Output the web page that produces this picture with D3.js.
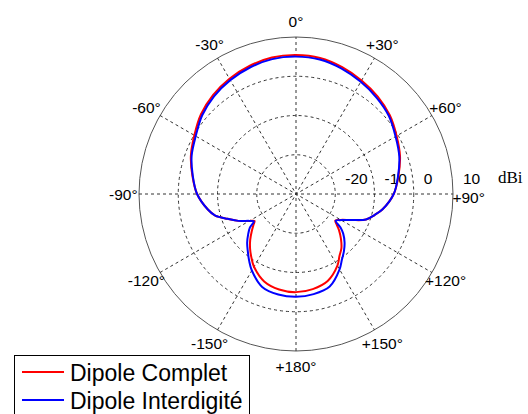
<!DOCTYPE html>
<html><head><meta charset="utf-8">
<script src="https://cdn.jsdelivr.net/npm/d3@7"></script>
<style>body{margin:0;background:#fff}svg{display:block}</style>
</head><body>
<svg id="chart" width="528" height="414"></svg>
<script>
// Angles in degrees (0 = top, clockwise positive)
const angles = [-180,-170,-160,-150,-145,-140,-135,-130,-126,-123,-120,-115,-110,-105,-100,-90,-80,-70,-60,-50,-40,-30,-20,-10,0,10,20,30,40,50,60,70,80,90,100,105,110,115,120,124,127,130,135,140,145,150,160,170];
// Gain in dBi
const dipoleComplet = [-5.0,-5.3,-6.3,-8.6,-10.2,-11.8,-13.5,-15.3,-16.6,-17.4,-16.3,-13.8,-11.5,-8.7,-7.2,-4.8,-3.2,-1.5,-0.1,1.6,2.9,3.9,4.7,5.3,5.4,5.2,4.4,3.4,2.4,1.2,-0.4,-1.8,-3.5,-5.1,-7.6,-9.3,-11.0,-14.3,-16.8,-17.9,-17.0,-15.7,-13.8,-12.0,-10.7,-8.9,-6.4,-5.4];
const dipoleInterdigite = [-3.8,-4.0,-4.8,-7.5,-9.2,-10.9,-12.4,-14.1,-15.5,-17.2,-16.3,-13.8,-11.5,-8.7,-7.2,-4.8,-3.3,-1.7,-0.5,1.2,2.5,3.5,4.3,4.9,5.0,4.8,4.0,3.0,2.0,0.9,-0.7,-2.0,-3.6,-5.1,-7.6,-9.3,-11.0,-14.3,-16.7,-17.8,-15.8,-14.3,-12.5,-11.0,-9.6,-7.8,-4.9,-4.1];
const ringValues = [-20,-10,0,10];
const ringLabels = ["-20","-10","0","10"];
const spokeAngles = [0,30,60,90,120,150];
const angleLabelValues = [0,30,60,90,120,150,180,-150,-120,-90,-60,-30];
const angleLabels = ["0°","+30°","+60°","+90°","+120°","+150°","+180°","-150°","-120°","-90°","-60°","-30°"];
const seriesNames = ["Dipole Complet","Dipole Interdigité"];
const seriesColors = ["#ff0000","#0000ff"];

const svg = d3.select("#chart");
const cx = 296, cy = 194, R = 157;
const r = d3.scaleLinear().domain([-30, 10]).range([0, R]);
const rad = d => d * Math.PI / 180;
const g = svg.append("g").attr("transform", `translate(${cx},${cy})`);

// rings
g.selectAll("circle.ring").data(ringValues).join("circle")
  .attr("r", d => r(d)).attr("fill", "none")
  .attr("stroke", d => d === 10 ? "#555" : "#333")
  .attr("stroke-width", 1)
  .attr("stroke-dasharray", d => d === 10 ? null : "3,3");

// spokes
g.selectAll("line.spoke").data(spokeAngles).join("line")
  .attr("x1", d => -R * Math.sin(rad(d))).attr("y1", d => R * Math.cos(rad(d)))
  .attr("x2", d => R * Math.sin(rad(d))).attr("y2", d => -R * Math.cos(rad(d)))
  .attr("stroke", "#333").attr("stroke-width", 1).attr("stroke-dasharray", "3,3");

// angle labels
g.selectAll("text.ang").data(angleLabelValues).join("text")
  .attr("x", d => 1.1 * R * Math.sin(rad(d)))
  .attr("y", d => -1.1 * R * Math.cos(rad(d)) + 5.5 + (d === 90 ? 3 : 0))
  .attr("text-anchor", "middle")
  .attr("font-family", "Arial, 'Liberation Sans', sans-serif")
  .attr("font-size", 15.5).attr("fill", "#000")
  .text((d, i) => angleLabels[i]);

// radial labels
g.selectAll("text.rl").data(ringValues).join("text")
  .attr("x", d => r(d) + 10).attr("y", -10)
  .attr("font-family", "Arial, 'Liberation Sans', sans-serif")
  .attr("font-size", 15.5).attr("fill", "#000")
  .text((d, i) => ringLabels[i]);

svg.append("text").attr("x", 498).attr("y", 183)
  .attr("font-family", "'Liberation Serif', 'Times New Roman', serif")
  .attr("font-size", 17).text("dBi");

// curves
const line = d3.lineRadial()
  .angle(d => rad(d[0]))
  .radius(d => r(d[1]))
  .curve(d3.curveCatmullRomClosed.alpha(0.5));
[dipoleComplet, dipoleInterdigite].forEach((vals, k) => {
  g.append("path")
    .datum(angles.map((a, i) => [a, vals[i]]))
    .attr("d", line).attr("fill", "none")
    .attr("stroke", seriesColors[k]).attr("stroke-width", 2)
    .attr("stroke-linejoin", "round");
});

// legend
const lg = svg.append("g");
lg.append("rect").attr("x", 14.5).attr("y", 355.5).attr("width", 235).attr("height", 70)
  .attr("fill", "#fff").attr("stroke", "#000").attr("stroke-width", 1);
seriesNames.forEach((name, i) => {
  const y = 372 + i * 28;
  lg.append("line").attr("x1", 22).attr("x2", 64).attr("y1", y).attr("y2", y)
    .attr("stroke", seriesColors[i]).attr("stroke-width", 2);
  lg.append("text").attr("x", 70).attr("y", y + 9)
    .attr("font-family", "Arial, 'Liberation Sans', sans-serif")
    .attr("font-size", 23).attr("fill", "#000").text(name);
});
</script>
</body></html>
